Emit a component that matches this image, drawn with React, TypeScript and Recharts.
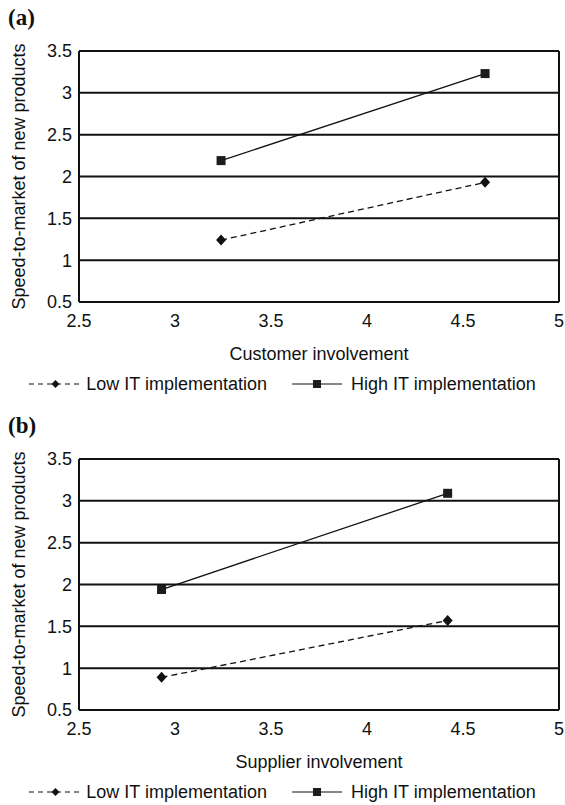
import { LineChart, Line, XAxis, YAxis, CartesianGrid, Legend } from "recharts"

// values
const customerX = [3.24, 4.615]
const lowCustomer = [1.24, 1.93]
const highCustomer = [2.19, 3.23]

const supplierX = [2.93, 4.42]
const lowSupplier = [0.89, 1.57]
const highSupplier = [1.94, 3.09]

const xTicks = [2.5, 3, 3.5, 4, 4.5, 5]
const yTicks = [0.5, 1, 1.5, 2, 2.5, 3, 3.5]

const seriesNames = ["Low IT implementation", "High IT implementation"]
const yTitle = "Speed-to-market of new products"

const FONT = '"Liberation Sans", Arial, Helvetica, sans-serif'
const INK = "#111"

const DiamondDot = (props: any) => {
  const { cx, cy, index } = props
  if (cx == null || cy == null) return null
  return <path key={index} d={`M${cx},${cy - 5.5}L${cx + 5},${cy}L${cx},${cy + 5.5}L${cx - 5},${cy}Z`} fill={INK} />
}

const SquareDot = (props: any) => {
  const { cx, cy, index } = props
  if (cx == null || cy == null) return null
  return <rect key={index} x={cx - 4.5} y={cy - 4.5} width={9} height={9} fill="#1c1c1c" />
}

const YTitle = (props: any) => {
  const vb = props.viewBox || { x: 0, y: 51, width: 79, height: 251 }
  const x = vb.x + 25
  const y = vb.y + vb.height / 2
  return (
    <text x={x} y={y} transform={`rotate(-90 ${x} ${y})`} textAnchor="middle" fill={INK} fontSize={18} fontFamily={FONT}>
      {yTitle}
    </text>
  )
}

const LegendContent = () => (
  <div
    style={{
      display: "flex",
      justifyContent: "center",
      alignItems: "center",
      height: 30,
      gap: 25,
      fontSize: 18,
      fontFamily: FONT,
      color: INK,
    }}
  >
    <span style={{ display: "flex", alignItems: "center" }}>
      <svg width={53} height={12}>
        <line x1={0} y1={6} x2={53} y2={6} stroke={INK} strokeWidth={1.2} strokeDasharray="5 4" />
        <path d="M26.5,2L30.5,6L26.5,10L22.5,6Z" fill={INK} />
      </svg>
      <span style={{ marginLeft: 4 }}>{seriesNames[0]}</span>
    </span>
    <span style={{ display: "flex", alignItems: "center" }}>
      <svg width={50} height={12}>
        <line x1={0} y1={6} x2={50} y2={6} stroke={INK} strokeWidth={1.2} />
        <rect x={21} y={2} width={8} height={8} fill="#1c1c1c" />
      </svg>
      <span style={{ marginLeft: 9 }}>{seriesNames[1]}</span>
    </span>
  </div>
)

function Panel({ tag, xTitle, xs, low, high, top }: any) {
  const data = xs.map((x: number, i: number) => ({ x, low: low[i], high: high[i] }))
  return (
    <div style={{ position: "absolute", left: 0, top, width: 565, height: 399 }}>
      <div
        style={{
          position: "absolute",
          left: 8,
          top: 5,
          fontFamily: '"Liberation Serif", "Times New Roman", serif',
          fontWeight: "bold",
          fontSize: 23,
          color: INK,
          zIndex: 2,
        }}
      >
        {tag}
      </div>
      <LineChart width={565} height={399} data={data} margin={{ top: 51, right: 6, bottom: 0, left: 0 }}>
        <CartesianGrid stroke={INK} strokeWidth={2} verticalValues={[2.5, 5]} />
        <XAxis
          type="number"
          dataKey="x"
          domain={[2.5, 5]}
          ticks={xTicks}
          axisLine={false}
          tickLine={false}
          tickMargin={6}
          height={67}
          tick={{ fill: INK, fontSize: 18, fontFamily: FONT }}
          label={{ value: xTitle, position: "insideBottom", offset: 9, fill: INK, fontSize: 18, fontFamily: FONT }}
        />
        <YAxis
          type="number"
          domain={[0.5, 3.5]}
          ticks={yTicks}
          width={79}
          axisLine={false}
          tickLine={false}
          tickMargin={1}
          tick={{ fill: INK, fontSize: 18, fontFamily: FONT }}
          label={{ value: yTitle, content: YTitle }}
        />
        <Line
          dataKey="low"
          name={seriesNames[0]}
          stroke={INK}
          strokeWidth={1.3}
          strokeDasharray="6 4"
          dot={DiamondDot}
          isAnimationActive={false}
        />
        <Line
          dataKey="high"
          name={seriesNames[1]}
          stroke={INK}
          strokeWidth={1.3}
          dot={SquareDot}
          isAnimationActive={false}
        />
        <Legend verticalAlign="bottom" content={LegendContent} wrapperStyle={{ left: 0, width: 565 }} />
      </LineChart>
    </div>
  )
}

export default function App() {
  return (
    <div
      style={{
        position: "absolute",
        left: 0,
        top: 0,
        width: 565,
        height: 805,
        overflow: "hidden",
        background: "#fff",
        fontFamily: FONT,
      }}
    >
      <Panel tag="(a)" xTitle="Customer involvement" xs={customerX} low={lowCustomer} high={highCustomer} top={0} />
      <Panel tag="(b)" xTitle="Supplier involvement" xs={supplierX} low={lowSupplier} high={highSupplier} top={408} />
    </div>
  )
}
